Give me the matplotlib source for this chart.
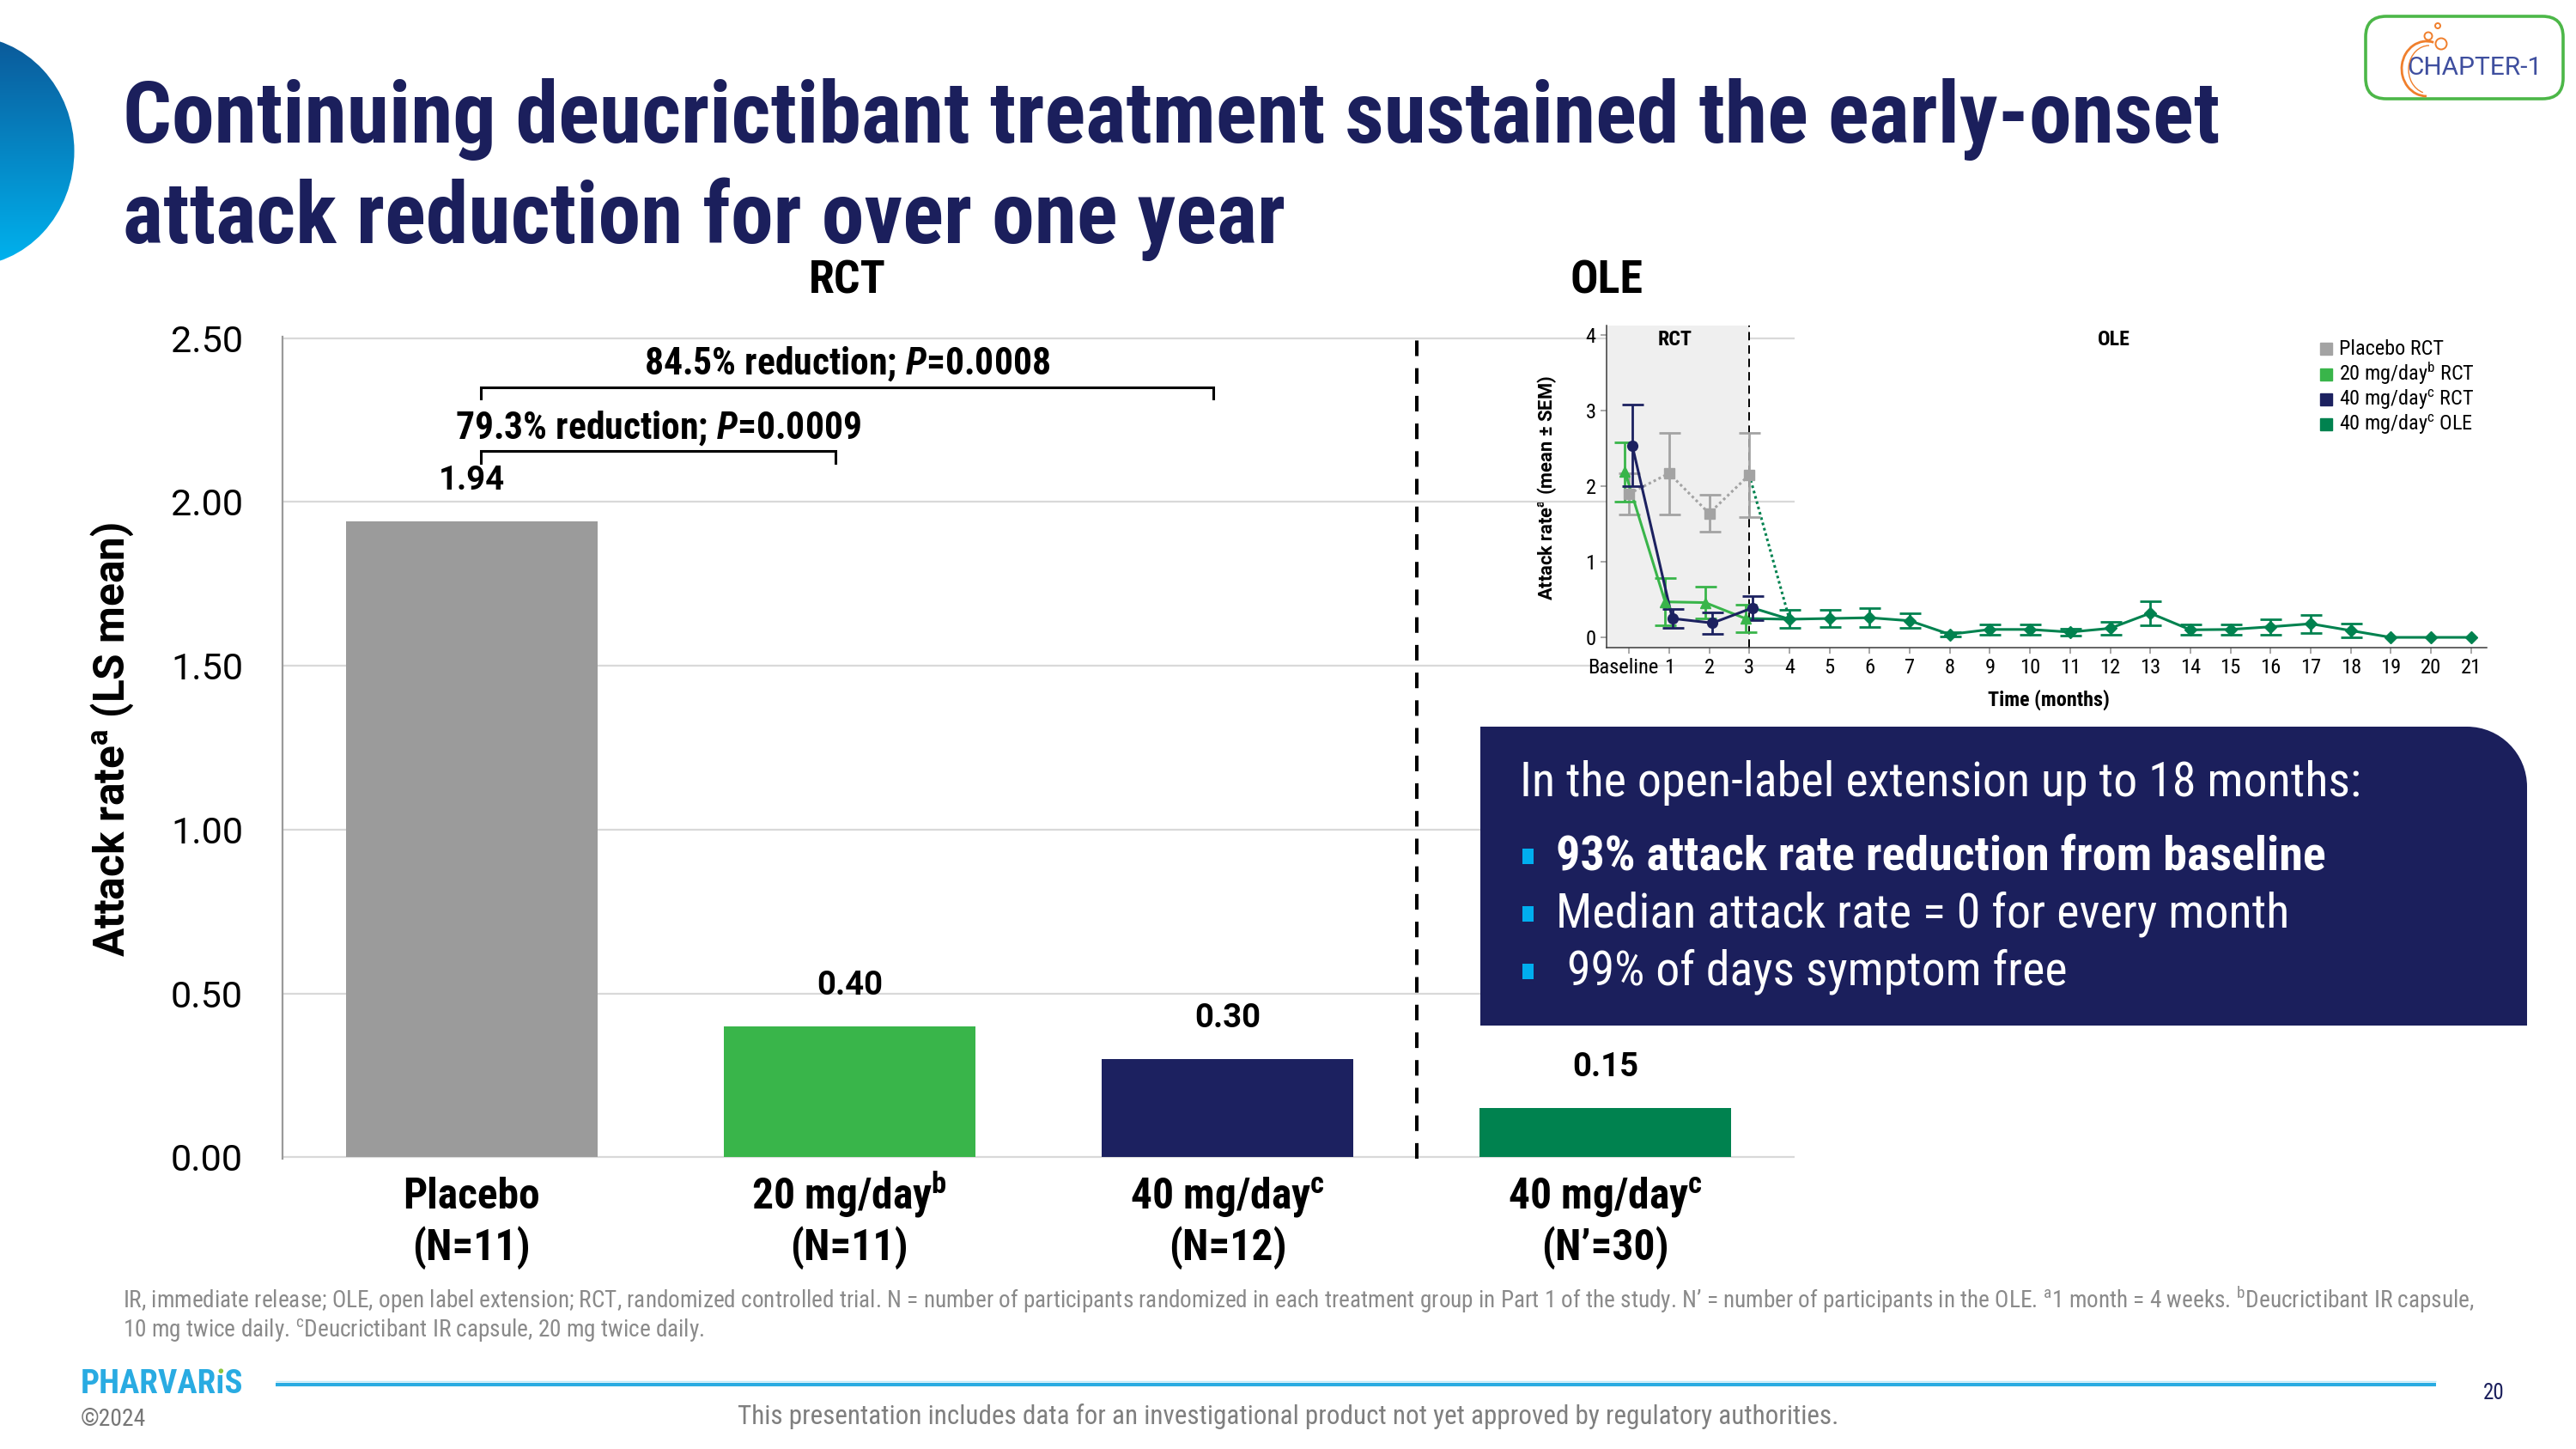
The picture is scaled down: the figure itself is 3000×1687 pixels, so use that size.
import numpy as np
import matplotlib
matplotlib.use('Agg')
import matplotlib.pyplot as plt
from matplotlib import font_manager
from matplotlib.patches import Ellipse, PathPatch, Rectangle, FancyBboxPatch, Circle, Arc
from matplotlib.path import Path
from matplotlib.lines import Line2D
from matplotlib.transforms import ScaledTranslation

# ---------------- data ----------------
groups = ['Placebo', '20 mg/day$^{b}$', '40 mg/day$^{c}$', '40 mg/day$^{c}$']
group_sizes = ['(N=11)', '(N=11)', '(N=12)', '(N\u2019=30)']
ls_mean = [1.94, 0.40, 0.30, 0.15]
yticks_main = [0.0, 0.5, 1.0, 1.5, 2.0, 2.5]

comparison_pairs = [(0, 1), (0, 2)]
comparison_reduction = ['79.3%', '84.5%']
comparison_p = ['0.0009', '0.0008']

months_rct = [0, 1, 2, 3]
placebo_mean = [1.90, 2.17, 1.64, 2.15]
placebo_sem = [0.27, 0.54, 0.245, 0.56]
mg20_mean = [2.19, 0.47, 0.46, 0.25]
mg20_sem = [0.39, 0.31, 0.21, 0.18]
mg40_mean = [2.54, 0.25, 0.19, 0.39]
mg40_sem = [0.54, 0.13, 0.14, 0.16]
months_ole = list(range(4, 22))
ole_mean = [0.24, 0.25, 0.26, 0.22, 0.04, 0.105, 0.105, 0.07, 0.12, 0.32,
            0.10, 0.105, 0.14, 0.18, 0.09, 0.0, 0.0, 0.0]
ole_sem = [0.12, 0.11, 0.125, 0.10, 0.03, 0.065, 0.065, 0.045, 0.08, 0.155,
           0.07, 0.07, 0.10, 0.12, 0.095, 0.0, 0.0, 0.0]
month_labels = ['Baseline'] + [str(m) for m in range(1, 22)]
inset_yticks = [0, 1, 2, 3, 4]
legend_labels = ['Placebo RCT', '20 mg/day$^{b}$ RCT', '40 mg/day$^{c}$ RCT', '40 mg/day$^{c}$ OLE']

title_lines = ['Continuing deucrictibant treatment sustained the early-onset',
               'attack reduction for over one year']
box_heading = 'In the open-label extension up to 18 months:'
box_bullets = ['93% attack rate reduction from baseline',
               'Median attack rate = 0 for every month',
               ' 99% of days symptom free']
footnote_lines = [
    'IR, immediate release; OLE, open label extension; RCT, randomized controlled trial. '
    'N = number of participants randomized in each treatment group in Part 1 of the study. '
    'N\u2019 = number of participants in the OLE. $^{a}$1 month = 4 weeks. $^{b}$Deucrictibant IR capsule,',
    '10 mg twice daily. $^{c}$Deucrictibant IR capsule, 20 mg twice daily.']
disclaimer = 'This presentation includes data for an investigational product not yet approved by regulatory authorities.'

# ---------------- style ----------------
W, H = 3000, 1687
available = {f.name for f in font_manager.fontManager.ttflist}
def pick(cands, default='DejaVu Sans'):
    for c in cands:
        if c in available:
            return c
    return default
COND = pick(['Roboto Condensed', 'Liberation Sans Narrow', 'Arial Narrow', 'Roboto'])
REG = pick(['Roboto', 'Liberation Sans'])
CONDF = [COND, 'DejaVu Sans']
REGF = [REG, 'DejaVu Sans']
plt.rcParams['font.family'] = REGF
plt.rcParams['mathtext.fontset'] = 'custom'
plt.rcParams['mathtext.default'] = 'regular'
plt.rcParams['mathtext.it'] = COND + ':italic:bold'

NAVY = '#1b1f5c'
C_PLA = '#9b9b9b'
C_20 = '#39b54a'
C_40 = '#1c2160'
C_OLE = '#00824f'
bar_colors = [C_PLA, C_20, C_40, C_OLE]

fig = plt.figure(figsize=(W / 100, H / 100), dpi=100)
fig.patch.set_facecolor('white')

bg = fig.add_axes([0, 0, 1, 1], zorder=0)
bg.axis('off')

fit_specs = []
def add_fit(getter, target, mode='w', lead=0):
    fit_specs.append((getter, target, mode, lead))

# left decorative gradient half-disc
grad = np.linspace(0, 1, 256)[:, None, None]
c_top = np.array([0x0b, 0x58, 0x98]) / 255.0
c_bot = np.array([0x00, 0xb4, 0xf0]) / 255.0
img = c_top * (1 - grad) + c_bot * grad
ell = Ellipse((-38, 176), 249, 268, transform=bg.transData)
im = bg.imshow(img, extent=(-170, 100, 312, 40), aspect='auto', interpolation='bilinear', zorder=1)
im.set_clip_path(ell)
bg.set_xlim(0, W)
bg.set_ylim(H, 0)

# title
t1 = bg.text(143, 166, title_lines[0], va='baseline', ha='left', color=NAVY,
             fontweight='bold', family=CONDF, fontsize=70)
t2 = bg.text(143, 283, title_lines[1], va='baseline', ha='left', color=NAVY,
             fontweight='bold', family=CONDF, fontsize=70)
add_fit(lambda: [t1, t2], 2443)

# chapter-1 logo
logo = FancyBboxPatch((2755, 19), 230, 96, boxstyle='round,pad=0,rounding_size=24',
                      fc='white', ec='#4cb748', lw=2.6, zorder=2)
bg.add_patch(logo)
ch = bg.text(2882, 79, 'CHAPTER-1', ha='center', va='center', color='#3f4f9f',
             fontweight='normal', family=REGF, fontsize=20)
add_fit(lambda: [ch], 158)
bg.add_patch(Arc((2826, 80), 58, 64, theta1=90, theta2=285, color='#f07f2c', lw=2.0, zorder=3))
bg.add_patch(Arc((2829, 81), 48, 56, theta1=105, theta2=270, color='#f07f2c', lw=1.0, zorder=3))
for (cx, cy, rr) in [(2828, 42, 4.5), (2843, 51, 6.5), (2839, 30, 3)]:
    bg.add_patch(Circle((cx, cy), rr, fc='none', ec='#f07f2c', lw=1.4, zorder=3))

# section headers
h_rct = bg.text(987, 327, 'RCT', ha='center', va='center', fontweight='bold', family=CONDF, fontsize=34)
h_ole = bg.text(1871, 327, 'OLE', ha='center', va='center', fontweight='bold', family=CONDF, fontsize=34)
add_fit(lambda: [h_rct, h_ole], 90)

# ---------------- main bar chart ----------------
ax = fig.add_axes([329 / W, 1 - 1349 / H, (2090 - 329) / W, (1349 - 392) / H], zorder=1)
ax.set_facecolor('none')
xpos = np.arange(len(ls_mean))
ax.bar(xpos, ls_mean, width=0.665, color=bar_colors, zorder=2)
ax.set_xlim(-0.5, 3.5)
ax.set_ylim(-0.004, 2.504)
ax.set_yticks(yticks_main)
ax.set_yticklabels([f'{v:.2f}' for v in yticks_main], family=REGF)
ax.yaxis.grid(True, color='#d9d9d9', lw=1.6)
ax.set_axisbelow(True)
for s in ['top', 'right', 'bottom']:
    ax.spines[s].set_visible(False)
ax.spines['left'].set_color('#9a9a9a')
ax.spines['left'].set_linewidth(1.6)
ax.tick_params(axis='y', length=0, pad=33, labelsize=34, labelcolor='black')
ax.set_xticks(xpos)
ax.set_xticklabels([''] * len(xpos))
ax.tick_params(axis='x', length=0)
add_fit(lambda: ax.get_yticklabels(), 84)

# two-line category labels with fixed baselines
xt = ax.get_xaxis_transform()
xl1 = [ax.text(i, -58 / 957, g, transform=xt, ha='center', va='baseline', fontweight='bold',
               family=CONDF, fontsize=30, clip_on=False) for i, g in enumerate(groups)]
xl2 = [ax.text(i, -118 / 957, n, transform=xt, ha='center', va='baseline', fontweight='bold',
               family=CONDF, fontsize=30, clip_on=False) for i, n in enumerate(group_sizes)]
add_fit(lambda: xl1 + xl2, 228, lead=1)

ax.axvline(2.5, color='black', lw=2.9, ls=(0, (4.5, 3.5)), zorder=3)

vlabels = []
for i, v in enumerate(ls_mean):
    vlabels.append(ax.text(i, v + 0.125, f'{v:.2f}', ha='center', va='center',
                           fontweight='bold', family=REGF, fontsize=30))
add_fit(lambda: vlabels, 77)

bracket_y = [2.155, 2.35]
cmp_texts = []
for k, ((i, j), red, p) in enumerate(zip(comparison_pairs, comparison_reduction, comparison_p)):
    yb = bracket_y[k]
    x0, x1 = i + 0.024, j - 0.038
    ax.plot([x0, x0, x1, x1], [yb - 0.035, yb, yb, yb - 0.035], color='black', lw=2.2,
            solid_joinstyle='miter', clip_on=False, zorder=3)
    cmp_texts.append(ax.text((x0 + x1) / 2, yb + 0.07, f'{red} reduction; ' + r'$\mathit{P}$' + f'={p}',
                             ha='center', va='center', fontweight='bold', family=CONDF, fontsize=30))
add_fit(lambda: [cmp_texts[1], cmp_texts[0]], 473)

ylab = bg.text(131, 861, 'Attack rate$^{a}$ (LS mean)', rotation=90, ha='center', va='center',
               fontweight='bold', family=REGF, fontsize=32)
add_fit(lambda: [ylab], 507, mode='h')

# ---------------- inset line chart ----------------
iax = fig.add_axes([1871 / W, 1 - 753.5 / H, (2896 - 1871) / W, (753.5 - 378.6) / H], zorder=1)
iax.set_facecolor('none')
iax.set_xlim(-0.56, 21.39)
iax.set_ylim(-0.13, 4.13)
iax.axvspan(-0.56, 3, color='#efefef', lw=0, zorder=0)
iax.axvline(3, color='black', lw=1.4, ls=(0, (5, 3)), zorder=1)

dodge = {'pla': 0.0, '20': -0.1, '40': 0.08}
lw_l = 2.2
dots = (0, (1, 1.1))

def series(x, m, s, color, marker, ms, ls):
    x = np.asarray(x, float); m = np.asarray(m, float); s = np.asarray(s, float)
    iax.plot(x, m, color=color, lw=lw_l, ls=ls, zorder=3)
    mask = s > 0
    iax.errorbar(x[mask], m[mask], yerr=s[mask], fmt='none', ecolor=color, elinewidth=2.0,
                 capsize=9, capthick=2.0, zorder=3)
    iax.plot(x, m, ls='none', marker=marker, ms=ms, color=color, zorder=4)

xr = np.asarray(months_rct, float)
# transitions RCT -> OLE
iax.plot([xr[-1] + dodge['pla'], months_ole[0]], [placebo_mean[-1], ole_mean[0]],
         color=C_OLE, lw=lw_l, ls=dots, zorder=2)
iax.plot([xr[-1] + dodge['20'], months_ole[0]], [mg20_mean[-1], ole_mean[0]], color=C_OLE, lw=lw_l, zorder=2)
iax.plot([xr[-1] + dodge['40'], months_ole[0]], [mg40_mean[-1], ole_mean[0]], color=C_OLE, lw=lw_l, zorder=2)

series(xr + dodge['pla'], placebo_mean, placebo_sem, '#a3a3a3', 's', 8.5, dots)
series(xr + dodge['20'], mg20_mean, mg20_sem, C_20, '^', 8.5, '-')
series(xr + dodge['40'], mg40_mean, mg40_sem, C_40, 'o', 8.5, '-')
series(months_ole, ole_mean, ole_sem, C_OLE, 'D', 7.5, '-')

iax.set_xticks(range(len(month_labels)))
iax.set_xticklabels(month_labels, family=CONDF)
iax.set_yticks(inset_yticks)
iax.set_yticklabels([str(v) for v in inset_yticks], family=CONDF)
iax.tick_params(axis='x', length=5, width=1.2, color='#9a9a9a', pad=4, labelsize=15)
iax.tick_params(axis='y', length=5, width=1.2, color='#9a9a9a', pad=4, labelsize=15)
for s in ['top', 'right']:
    iax.spines[s].set_visible(False)
for s in ['left', 'bottom']:
    iax.spines[s].set_color('#3a3a3a')
    iax.spines[s].set_linewidth(1.1)
add_fit(lambda: list(iax.get_xticklabels()) + list(iax.get_yticklabels()), 82, lead=0)

i_rct = iax.text(1.15, 3.94, 'RCT', ha='center', va='center', fontweight='bold', family=CONDF, fontsize=15)
i_ole = iax.text(12.1, 3.94, 'OLE', ha='center', va='center', fontweight='bold', family=CONDF, fontsize=15)
add_fit(lambda: [i_rct, i_ole], 40)

handles = [Line2D([], [], marker='s', ls='none', mfc=c, mec=c, ms=9.5) for c in ['#a3a3a3', C_20, C_40, C_OLE]]
leg = iax.legend(handles, legend_labels, loc='upper left', bbox_to_anchor=(2702 / W, 1 - 395 / H),
                 bbox_transform=fig.transFigure, frameon=False, fontsize=15, handlelength=0.7,
                 handletextpad=0.35, labelspacing=0.08, borderpad=0, borderaxespad=0)
for t in leg.get_texts():
    t.set_family(CONDF)
add_fit(lambda: leg.get_texts(), 122)

iylab = bg.text(1802, 568, 'Attack rate$^{a}$ (mean \u00b1 SEM)', rotation=90, ha='center', va='center',
                fontweight='bold', family=REGF, fontsize=14)
add_fit(lambda: [iylab], 262, mode='h')
ixlab = bg.text(2386, 815, 'Time (months)', ha='center', va='center', fontweight='bold', family=CONDF, fontsize=15)
add_fit(lambda: [ixlab], 142)

# ---------------- callout box (overlay) ----------------
fg = fig.add_axes([0, 0, 1, 1], zorder=10)
fg.axis('off')
fg.set_xlim(0, W)
fg.set_ylim(H, 0)
x0b, x1b, y0b, y1b, rb = 1724, 2943, 846, 1194, 70
k = 0.448
verts = [(x0b, y1b), (x1b, y1b), (x1b, y0b + rb), (x1b, y0b + k * rb), (x1b - k * rb, y0b),
         (x1b - rb, y0b), (x0b, y0b), (x0b, y1b)]
codes = [Path.MOVETO, Path.LINETO, Path.LINETO, Path.CURVE4, Path.CURVE4, Path.CURVE4,
         Path.LINETO, Path.CLOSEPOLY]
fg.add_patch(PathPatch(Path(verts, codes), fc=NAVY, ec='none', zorder=1))
bh = fg.text(1770, 911, box_heading, ha='left', va='center', color='white', family=CONDF, fontsize=30)
add_fit(lambda: [bh], 980)
bullet_y = [997, 1064, 1131]
bullet_x = [1812, 1812, 1812]
bullet_w = [897, 853, 597]
for idx, (txt, yy) in enumerate(zip(box_bullets, bullet_y)):
    fg.add_patch(Rectangle((1773, yy - 9), 13, 18, fc='#00aeef', ec='none', zorder=2))
    bt = fg.text(bullet_x[idx], yy, txt, ha='left', va='center', color='white', family=CONDF,
                 fontweight='bold' if idx == 0 else 'normal', fontsize=30)
    add_fit((lambda b=bt: [b]), bullet_w[idx])

# ---------------- footer ----------------
fn1 = bg.text(143, 1513, footnote_lines[0], ha='left', va='center', color='#8a8a8a', family=CONDF, fontsize=16)
fn2 = bg.text(143, 1548, footnote_lines[1], ha='left', va='center', color='#8a8a8a', family=CONDF, fontsize=16)
add_fit(lambda: [fn1, fn2], 2740)

bg.plot([321, 2837], [1608, 1608], color='#bde9f8', lw=1.0, solid_capstyle='butt')
bg.plot([321, 2837], [1612, 1612], color='#29abe2', lw=3.0, solid_capstyle='butt')
pg = bg.text(2904, 1622, '20', ha='center', va='center', color=NAVY, family=CONDF, fontsize=18)
cp = bg.text(94, 1653, '\u00a92024', ha='left', va='center', color='#777777', family=CONDF, fontsize=13)
add_fit(lambda: [cp], 76)
dis = bg.text(1500, 1649, disclaimer, ha='center', va='center', color='#7f7f7f', family=CONDF, fontsize=21)
add_fit(lambda: [dis], 1278)
ph = bg.text(94, 1611, 'PHARVAR\u0131S', ha='left', va='center', color='#29abe2',
             fontweight='heavy', family=CONDF, fontsize=22)
add_fit(lambda: [ph], 189)

def run_fit(n=3):
    for _ in range(n):
        fig.canvas.draw()
        r = fig.canvas.get_renderer()
        for getter, target, mode, lead in fit_specs:
            ts = getter()
            if not ts:
                continue
            bb = ts[lead].get_window_extent(r)
            cur = bb.width if mode == 'w' else bb.height
            if cur > 1:
                new = ts[lead].get_fontsize() * target / cur
                for t in ts:
                    t.set_fontsize(new)

run_fit(3)

# nudge the "Baseline" tick label slightly left, as in the original
bl = iax.get_xticklabels()[0]
bl.set_transform(bl.get_transform() + ScaledTranslation(-7 / 100, 0, fig.dpi_scale_trans))

# green dot on the logo's "i"
r = fig.canvas.get_renderer()
bbp = ph.get_window_extent(r)
tmp = bg.text(0, 0, 'PHARVAR', fontweight='heavy', family=CONDF, fontsize=ph.get_fontsize())
tmp2 = bg.text(0, 0, '\u0131', fontweight='heavy', family=CONDF, fontsize=ph.get_fontsize())
w1 = tmp.get_window_extent(r).width
w2 = tmp2.get_window_extent(r).width
tmp.remove(); tmp2.remove()
dot_x = 94 + w1 + w2 / 2
dot_y = H - (bbp.y1 - 0.10 * bbp.height)
bg.add_patch(Circle((dot_x, dot_y), 0.075 * bbp.height, fc='#8cc63f', ec='none', zorder=5))

fig.savefig('out.png', dpi=100, facecolor='white')
